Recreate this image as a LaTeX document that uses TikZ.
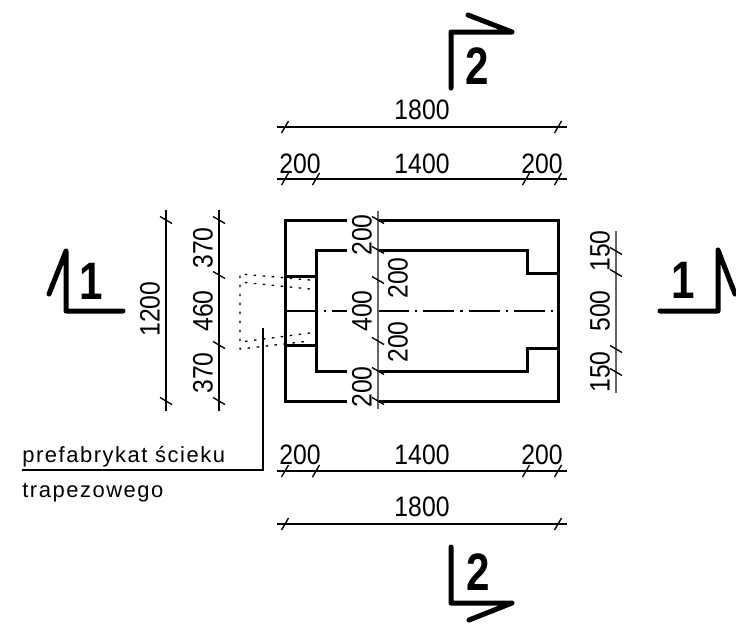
\documentclass[tikz,border=0pt]{standalone}
\usepackage{fontspec}
\setmainfont{Liberation Sans}
\newfontfamily\notefont[LetterSpace=7]{Liberation Sans}

\tikzset{
  outline/.style={line width=0.06cm},
  dimline/.style={line width=0.027cm},
  dimgray/.style={line width=0.034cm,color=black!60},
  axisline/.style={line width=0.024cm,dash pattern=on 0.62cm off 0.12cm on 0.05cm off 0.12cm},
  hidden/.style={line width=0.026cm,dash pattern=on 0.05cm off 0.13cm},
  sectionline/.style={line width=0.1cm,line cap=round,line join=round},
  dimtext/.style={inner sep=0pt,font=\fontsize{16}{16}\selectfont,xscale=0.88,transform shape},
  dimside/.style={inner sep=0pt,font=\fontsize{16}{16}\selectfont,rotate=90,xscale=0.88,transform shape},
  sectiontext/.style={inner sep=0pt,font=\fontsize{30}{30}\selectfont\bfseries,xscale=0.8,transform shape},
  notetext/.style={inner sep=0pt,anchor=base west,font=\fontsize{12.5}{12.5}\selectfont\notefont}
}

\begin{document}
\begin{tikzpicture}[x=0.02cm,y=-0.02cm]
      \useasboundingbox (0,0) rectangle (736,626);

      \draw[outline] (347,220) -- (285,220) -- (285,401) -- (347,401);
      \draw[outline] (378,220) -- (558,220) -- (558,401) -- (378,401);
      \draw[outline] (347,250) -- (316,250) -- (316,371) -- (347,371);
      \draw[outline] (378,250) -- (527,250) -- (527,273) -- (558,273);
      \draw[outline] (378,371) -- (527,371) -- (527,348) -- (558,348);
      \draw[outline] (285,276) -- (316,276);
      \draw[outline] (285,345) -- (316,345);

      \draw[axisline] (287,311) -- (347,311);
      \draw[axisline] (378,311) -- (553,311);

      \draw[hidden] (310,280) -- (240,274) -- (240,349) -- (310,341);
      \draw[hidden] (310,289) -- (240,282);
      \draw[hidden] (310,333) -- (240,342);

      \coordinate (leadtop) at (263,328);
      \coordinate (leadknee) at (263,470);
      \coordinate (leadend) at (22,470);
      \draw[dimline] (leadtop) -- (leadknee) -- (leadend);
      \node[notetext] (noteone) at (22,462) {prefabrykat ścieku};
      \node[notetext] (notetwo) at (22,497) {trapezowego};

      \foreach \yy/\xlist in {127/{285,558},179/{285,316,526,558},471/{285,316,526,558},524/{285,558}} {
        \draw[dimline] (277,\yy) -- (567,\yy);
        \foreach \xx in \xlist {
          \draw[dimline] (\xx-3.5,\yy+6) -- (\xx+3.5,\yy-6);
        }
      }

      \foreach \xx/\ya/\yb/\ylist in {166/210/411/{220,401},219/210/411/{220,275,345,401}} {
        \draw[dimline] (\xx,\ya) -- (\xx,\yb);
        \foreach \yy in \ylist {
          \draw[dimline] (\xx-6,\yy-3.5) -- (\xx+6,\yy+3.5);
        }
      }

      \foreach \xx/\ya/\yb/\ylist in {378/211/409/{220,250,280,341,371,401},616/231/393/{251,273,349,372}} {
        \draw[dimgray] (\xx,\ya) -- (\xx,\yb);
        \foreach \yy in \ylist {
          \draw[dimline] (\xx-6,\yy-3.5) -- (\xx+6,\yy+3.5);
        }
      }

      \node[dimtext] (topall) at (422,110) {1800};
      \node[dimtext] (topleft) at (300,164) {200};
      \node[dimtext] (topmid) at (422,164) {1400};
      \node[dimtext] (topright) at (542,164) {200};

      \node[dimtext] (botleft) at (300,455) {200};
      \node[dimtext] (botmid) at (422,455) {1400};
      \node[dimtext] (botright) at (542,455) {200};
      \node[dimtext] (botall) at (422,507) {1800};

      \node[dimside] (leftall) at (150,309) {1200};
      \node[dimside] (leftup) at (203,248) {370};
      \node[dimside] (leftmid) at (203,311) {460};
      \node[dimside] (leftdown) at (203,373) {370};

      \node[dimside] (midup) at (362,235) {200};
      \node[dimside] (midmid) at (362,311) {400};
      \node[dimside] (middown) at (362,387) {200};
      \node[dimside] (innerup) at (398,278) {200};
      \node[dimside] (innerdown) at (398,342) {200};

      \node[dimside] (rightup) at (600,251) {150};
      \node[dimside] (rightmid) at (600,311) {500};
      \node[dimside] (rightdown) at (600,372) {150};

      \draw[sectionline] (451,88) -- (451,32) -- (512,32) -- (468,15);
      \node[sectiontext] (sectop) at (477,66) {2};

      \draw[sectionline] (451,547) -- (451,603) -- (512,603) -- (469,620);
      \node[sectiontext] (secbot) at (478,572) {2};

      \draw[sectionline] (49,294) -- (66,251) -- (66,311) -- (123,311);
      \node[sectiontext] (secleft) at (91,281) {1};

      \draw[sectionline] (660,311) -- (718,311) -- (718,250) -- (735,294);
      \node[sectiontext] (secright) at (683,280) {1};
    \end{tikzpicture}
\end{document}
